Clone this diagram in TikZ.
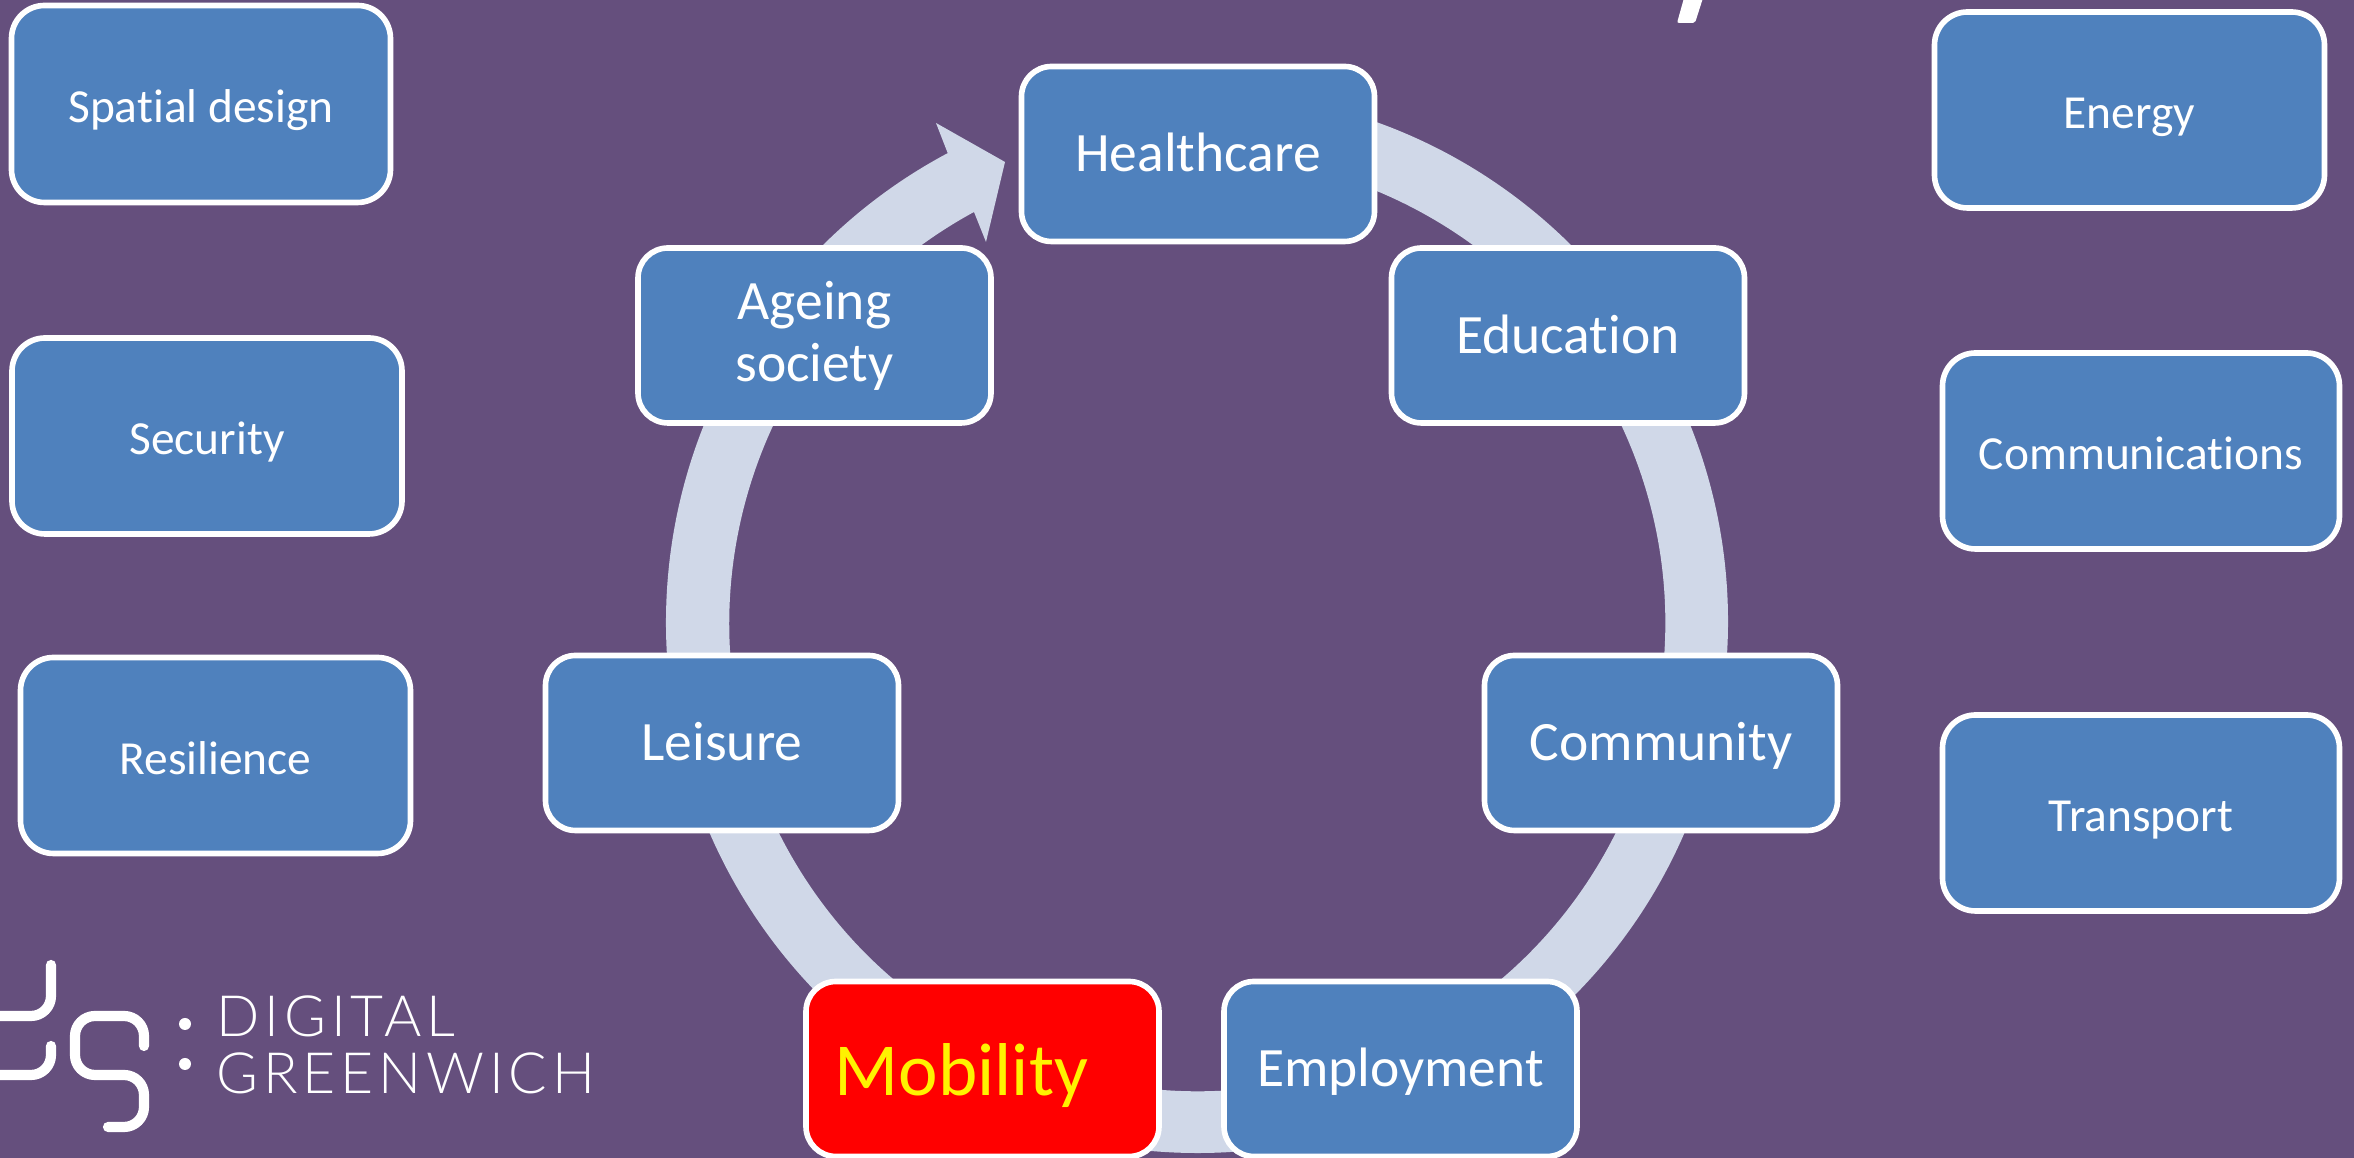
\documentclass[tikz,border=0pt]{standalone}
\usepackage{fontspec}
\setmainfont[Ligatures=NoCommon]{Carlito}
\newfontfamily\logofont[LetterSpace=8.5]{Lato Light}
\definecolor{slidepurple}{HTML}{654F7D}
\definecolor{boxblue}{HTML}{4F81BD}
\definecolor{ringgrey}{HTML}{D0D8E8}
\tikzset{
  cyclebox/.style={draw=white, line width=1.6pt, fill=boxblue, rounded corners=0.3cm,
    minimum width=3.53cm, minimum height=1.75cm, inner sep=0pt, align=center, text=white,
    font=\fontsize{15.8}{17.6}\selectfont, text height=13.7pt, text depth=3.46pt},
  sidebox/.style={draw=white, line width=1.6pt, fill=boxblue, rounded corners=0.33cm,
    minimum width=3.9cm, minimum height=1.96cm, inner sep=0pt, text=white,
    font=\fontsize{13.5}{16}\selectfont, text height=13.5pt, text depth=2.9pt},
  logoline/.style={draw=white, line width=2.9pt, rounded corners=0.2cm, line cap=round}
}
\begin{document}
\begin{tikzpicture}
  \useasboundingbox (0,0) rectangle (23.54,11.58);
  \fill[slidepurple] (0,0) rectangle (23.54,11.58);
  \coordinate (ringcentre) at (11.97,5.36);
  % ring with its arrow head
  \fill[ringgrey] (ringcentre) ++(85:5.31) arc[start angle=85, end angle=-242, radius=5.31]
    -- (9.36,10.35) -- (10.05,9.96) -- (9.86,9.16) -- (9.74,9.46)
    arc[start angle=-241.5, end angle=85, radius=4.68] -- cycle;
  % cycle
  \node[cyclebox] (healthcare) at (11.98,10.04) {Healthcare};
  \node[cyclebox] (education) at (15.68,8.225) {Education};
  \node[cyclebox] (community) at (16.61,4.15) {Community};
  \node[cyclebox] (employment) at (14.005,0.89) {Employment};
  \node[cyclebox, fill=red, text=yellow, font=\fontsize{21.3}{24}\selectfont, text height=18.6pt, text depth=3.48pt] (mobility) at (9.825,0.89) {Mobility\hspace{.42cm}};
  \node[cyclebox] (leisure) at (7.22,4.15) {Leisure};
  \node[cyclebox, text height=, text depth=] (ageing) at (8.145,8.225) {Ageing\\society};
  % left column
  \node[sidebox, minimum width=3.79cm, minimum height=1.97cm] (spatial) at (2.01,10.54) {Spatial design};
  \node[sidebox] (security) at (2.07,7.22) {Security};
  \node[sidebox] (resilience) at (2.155,4.025) {Resilience};
  % right column
  \node[sidebox] (energy) at (21.295,10.48) {Energy};
  \node[sidebox, minimum width=3.97cm] (communications) at (21.41,7.07) {Communications};
  \node[sidebox, minimum width=3.97cm] (transport) at (21.41,3.45) {Transport};
  % logo
  \draw[logoline] (0.51,1.93) -- (0.51,1.42) -- (-0.2,1.42);
  \draw[logoline] (0.51,1.12) -- (0.51,0.83) -- (-0.2,0.83);
  \draw[logoline] (1.44,1.12) -- (1.44,1.42) -- (0.75,1.42) -- (0.75,0.83) -- (1.44,0.83) -- (1.44,0.31) -- (1.08,0.31);
  \fill[white] (1.85,1.34) circle (0.06) (1.85,0.94) circle (0.06);
  \node[anchor=base west, inner sep=0pt, text=white, font=\logofont\fontsize{16.2}{18}\selectfont] (digital) at (2.16,1.21) {DIGITAL};
  \node[anchor=base west, inner sep=0pt, text=white, font=\logofont\fontsize{16.2}{18}\selectfont] (greenwich) at (2.16,0.64) {GREENWICH};
  % tail of a cut off title letter
  \fill[white, rounded corners=0.02cm] (16.84,11.6) -- (16.77,11.35) -- (16.95,11.35) -- (17.03,11.6) -- cycle;
\end{tikzpicture}
\end{document}
